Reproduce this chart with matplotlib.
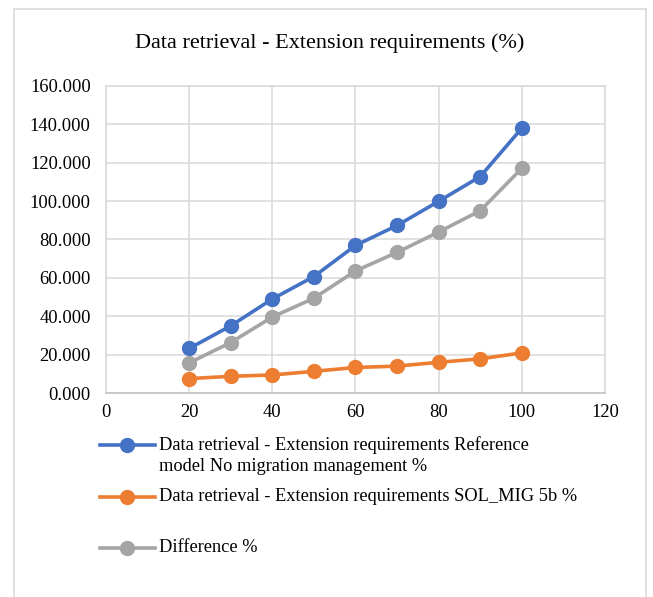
import matplotlib
matplotlib.use("Agg")
import matplotlib.pyplot as plt
from matplotlib.lines import Line2D
from matplotlib.patches import Rectangle
from matplotlib.ticker import FormatStrFormatter

plt.rcParams["font.family"] = ["Liberation Serif", "DejaVu Serif"]

x_vals = [20, 30, 40, 50, 60, 70, 80, 90, 100]
reference = [23.2, 35.0, 49.0, 60.7, 76.9, 87.3, 99.9, 112.8, 138.0]
sol_mig = [7.5, 8.7, 9.4, 11.3, 13.3, 14.0, 16.0, 17.8, 20.9]
difference = [15.7, 26.3, 39.6, 49.4, 63.6, 73.3, 83.9, 95.0, 117.1]

labels = [
    "Data retrieval - Extension requirements Reference\nmodel No migration management %",
    "Data retrieval - Extension requirements SOL_MIG 5b %",
    "Difference %",
]
colors = ["#4472C4", "#ED7D31", "#A5A5A5"]
series = [reference, sol_mig, difference]

fig = plt.figure(figsize=(6.53, 5.97), dpi=100)
ax = fig.add_axes([0.1623, 0.3417, 0.7642, 0.5143])

for vals, c in zip(series, colors):
    ax.plot(x_vals, vals, color=c, lw=2.6, marker="o", markersize=10,
            zorder=3, solid_capstyle="round")

ax.set_xlim(0, 120)
ax.set_ylim(0, 160)
ax.set_xticks(range(0, 121, 20))
ax.set_yticks(range(0, 161, 20))
ax.yaxis.set_major_formatter(FormatStrFormatter("%.3f"))
ax.tick_params(length=0, labelsize=13.3)
ax.tick_params(axis="y", pad=11)
ax.tick_params(axis="x", pad=8)
ax.grid(True, color="#D9D9D9", lw=1.1)
ax.set_axisbelow(True)
for s in ax.spines.values():
    s.set_color("#D9D9D9")
    s.set_linewidth(1.1)
ax.spines["bottom"].set_color("#BFBFBF")

fig.text(0.505, 0.928, "Data retrieval - Extension requirements (%)",
         ha="center", va="center", fontsize=16)

# legend drawn below the plot, Excel-style
legend_y = [0.255, 0.168, 0.082]
for lab, c, ly in zip(labels, colors, legend_y):
    fig.add_artist(Line2D([0.153, 0.237], [ly, ly], color=c, lw=2.6,
                          transform=fig.transFigure))
    fig.add_artist(Line2D([0.195], [ly], color=c, marker="o", markersize=10,
                          transform=fig.transFigure))
    fig.text(0.243, ly + 0.015, lab, ha="left", va="top", fontsize=13.2,
             linespacing=1.33)

fig.add_artist(Rectangle((0.021, -0.05), 0.968, 1.035, fill=False,
                         edgecolor="#D9D9D9", lw=1.2, transform=fig.transFigure))

fig.savefig("out.png", dpi=100)
